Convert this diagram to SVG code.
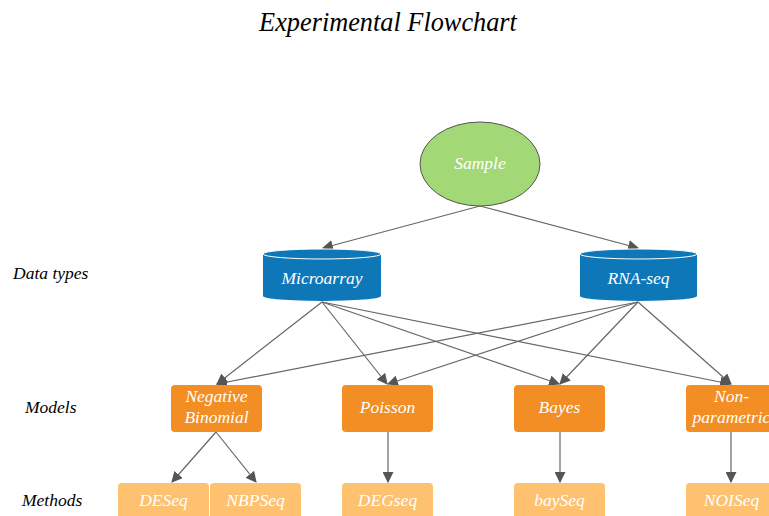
<svg xmlns="http://www.w3.org/2000/svg" width="769" height="516" viewBox="0 0 769 516">
<style>
text{font-family:"Liberation Serif","DejaVu Serif",serif;font-style:italic;}
.t{font-size:17.5px;fill:#fff;text-anchor:middle;}
.lab{font-size:17.5px;fill:#000;}
.model{fill:#f28e24;}
.meth{fill:#fec170;}
.cyl{fill:#0e77b8;}
.edge{stroke:#666;stroke-width:1.2;fill:none;marker-end:url(#ah);}
</style>
<defs>
<marker id="ah" viewBox="0 0 10 10" refX="9" refY="5" markerWidth="11" markerHeight="11" markerUnits="userSpaceOnUse" orient="auto">
<path d="M0,0 L10,5 L0,10 z" fill="#555"/>
</marker>
</defs>
<rect width="769" height="516" fill="#fff"/>
<text x="388" y="31" font-size="26.3" text-anchor="middle" fill="#000">Experimental Flowchart</text>
<text class="lab" x="13" y="279">Data types</text>
<text class="lab" x="25" y="413">Models</text>
<text class="lab" x="22" y="506">Methods</text>

<g id="connectors">
<line class="edge" x1="480" y1="206" x2="323" y2="248"/>
<line class="edge" x1="480" y1="206" x2="638" y2="248"/>
<line class="edge" x1="322" y1="302" x2="217" y2="384"/>
<line class="edge" x1="322" y1="302" x2="387" y2="384"/>
<line class="edge" x1="322" y1="302" x2="559" y2="384"/>
<line class="edge" x1="322" y1="302" x2="730" y2="384"/>
<line class="edge" x1="638" y1="302" x2="217" y2="384"/>
<line class="edge" x1="638" y1="302" x2="388" y2="384"/>
<line class="edge" x1="638" y1="302" x2="560" y2="384"/>
<line class="edge" x1="638" y1="302" x2="731" y2="384"/>
<line class="edge" x1="216" y1="432" x2="172" y2="482"/>
<line class="edge" x1="216" y1="432" x2="256" y2="482"/>
<line class="edge" x1="388" y1="432" x2="388" y2="482"/>
<line class="edge" x1="560" y1="432" x2="560" y2="482"/>
<line class="edge" x1="731" y1="432" x2="731" y2="482"/>
</g>

<g id="sample">
<ellipse cx="480" cy="164" rx="60" ry="42" fill="#a3d877" stroke="#555" stroke-width="1"/>
<text class="t" x="480" y="169">Sample</text>
</g>

<g id="microarray">
<path class="cyl" d="M263,254 A59,5 0 0 1 381,254 L381,296 A59,5 0 0 1 263,296 Z"/>
<ellipse cx="322" cy="254" rx="59" ry="5" fill="#0e77b8" stroke="#fff" stroke-width="1"/>
<text class="t" x="322" y="284">Microarray</text>
</g>

<g id="rnaseq">
<path class="cyl" d="M580,254 A58.5,5 0 0 1 697,254 L697,296 A58.5,5 0 0 1 580,296 Z"/>
<ellipse cx="638.5" cy="254" rx="58.5" ry="5" fill="#0e77b8" stroke="#fff" stroke-width="1"/>
<text class="t" x="638.5" y="284">RNA-seq</text>
</g>

<g id="nb">
<rect class="model" x="171" y="385" width="91" height="47" rx="4"/>
<text class="t" x="216.5" y="402">Negative</text>
<text class="t" x="216.5" y="423">Binomial</text>
</g>
<g id="poisson">
<rect class="model" x="342" y="385" width="91" height="47" rx="4"/>
<text class="t" x="387.5" y="413">Poisson</text>
</g>
<g id="bayes">
<rect class="model" x="514" y="385" width="91" height="47" rx="4"/>
<text class="t" x="559.5" y="413">Bayes</text>
</g>
<g id="nonparam">
<rect class="model" x="686" y="385" width="91" height="47" rx="4"/>
<text class="t" x="731.5" y="402">Non-</text>
<text class="t" x="731.5" y="423">parametric</text>
</g>

<g id="deseq">
<rect class="meth" x="118" y="483" width="91" height="40" rx="4"/>
<text class="t" x="163.5" y="506">DESeq</text>
</g>
<g id="nbpseq">
<rect class="meth" x="210" y="483" width="91" height="40" rx="4"/>
<text class="t" x="255.5" y="506">NBPSeq</text>
</g>
<g id="degseq">
<rect class="meth" x="342" y="483" width="91" height="40" rx="4"/>
<text class="t" x="387.5" y="506">DEGseq</text>
</g>
<g id="bayseq">
<rect class="meth" x="514" y="483" width="91" height="40" rx="4"/>
<text class="t" x="559.5" y="506">baySeq</text>
</g>
<g id="noiseq">
<rect class="meth" x="686" y="483" width="91" height="40" rx="4"/>
<text class="t" x="731.5" y="506">NOISeq</text>
</g>
</svg>
